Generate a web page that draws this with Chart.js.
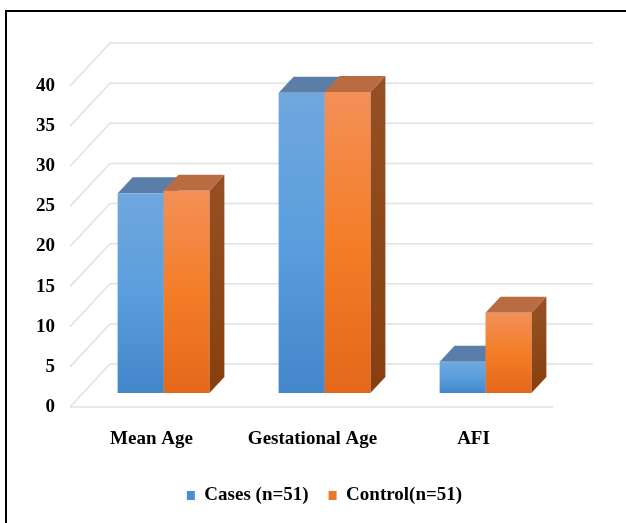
<!DOCTYPE html>
<html>
<head>
<meta charset="utf-8">
<title>Cases vs Control</title>
<script src="https://cdn.jsdelivr.net/npm/chart.js@4/dist/chart.umd.min.js"></script>
<style>
  body { margin: 0; background: #fff; overflow: hidden; }
  #wrap { position: relative; width: 626px; height: 523px; }
  #frame {
    position: absolute; left: 5px; top: 10px; width: 700px; height: 600px;
    border-left: 2px solid #000; border-top: 2px solid #000; pointer-events: none;
  }
  canvas { position: absolute; left: 0; top: 0; }
</style>
</head>
<body>
<div id="wrap">
  <canvas id="chart" width="626" height="523"></canvas>
  <div id="frame"></div>
</div>
<script>
// values
const categories = ['Mean Age', 'Gestational Age', 'AFI'];
const casesValues = [24.9, 37.4, 3.9];
const controlValues = [25.2, 37.5, 10.0];
const yTicks = [0, 5, 10, 15, 20, 25, 30, 35, 40];

// 3d look: offsets of the floor front edge and back wall from the bar plane
const FRONT = [-13, 14];
const BACK = [27, -29];
const BAR_DEPTH = [15, -16];
const GRID = '#dde1ea';

const blue = { light: '#70a7de', dark: '#4386ca', top: '#5a7ea7', side: '#3f6d9e', legend: '#4a8ed4' };
const orange = { light: '#f39058', dark: '#e4681a', top: '#b96b42', side: '#954f22', sideDark: '#873f0e', legend: '#ee7628' };

function frontFill(c) {
  return function (context) {
    const chart = context.chart;
    const y = chart.scales.y;
    if (!chart.chartArea || !y || !context.parsed) return c.dark;
    const yTop = y.getPixelForValue(context.parsed.y);
    const yBase = y.getPixelForValue(0);
    if (!isFinite(yTop) || yBase - yTop < 1) return c.dark;
    const g = chart.ctx.createLinearGradient(0, yTop, 0, yBase);
    g.addColorStop(0, c.light);
    g.addColorStop(0.5, c === orange ? '#f47d28' : '#5a9edd');
    g.addColorStop(1, c.dark);
    return g;
  };
}

function poly(ctx, pts, fill) {
  ctx.beginPath();
  ctx.moveTo(pts[0][0], pts[0][1]);
  for (let i = 1; i < pts.length; i++) ctx.lineTo(pts[i][0], pts[i][1]);
  ctx.closePath();
  ctx.fillStyle = fill;
  ctx.fill();
}

// back wall, floor and the top/side faces of the bars
const depthPlugin = {
  id: 'depth',
  beforeDatasetsDraw(chart) {
    const { ctx, chartArea: a } = chart;
    const y = chart.scales.y;
    ctx.save();
    ctx.strokeStyle = GRID;
    ctx.lineWidth = 1.5;
    yTicks.forEach(v => {
      const py = y.getPixelForValue(v);
      ctx.beginPath();
      ctx.moveTo(a.left + FRONT[0], py + FRONT[1]);
      ctx.lineTo(a.left + BACK[0], py + BACK[1]);
      ctx.lineTo(a.right + BACK[0], py + BACK[1]);
      ctx.stroke();
    });
    const p0 = y.getPixelForValue(0);
    ctx.beginPath();
    ctx.moveTo(a.left + FRONT[0], p0 + FRONT[1]);
    ctx.lineTo(a.right + FRONT[0], p0 + FRONT[1]);
    ctx.stroke();

    const colors = [blue, orange];
    chart.data.datasets.forEach((ds, i) => {
      const c = colors[i];
      chart.getDatasetMeta(i).data.forEach(bar => {
        const { x, y: top, width, base } = bar.getProps(['x', 'y', 'width', 'base'], true);
        const x0 = x - width / 2, x1 = x + width / 2;
        const dx = BAR_DEPTH[0], dy = BAR_DEPTH[1];
        const g = ctx.createLinearGradient(0, top, 0, base);
        g.addColorStop(0, c.side);
        g.addColorStop(1, c.sideDark || c.side);
        poly(ctx, [[x1, base], [x1, top], [x1 + dx, top + dy], [x1 + dx, base + dy]], g);
        poly(ctx, [[x0, top], [x1, top], [x1 + dx, top + dy], [x0 + dx, top + dy]], c.top);
      });
    });
    ctx.restore();
  }
};

const serif = "'Liberation Serif', 'Times New Roman', serif";

new Chart(document.getElementById('chart'), {
  type: 'bar',
  data: {
    labels: categories,
    datasets: [
      { label: 'Cases (n=51)', data: casesValues, backgroundColor: frontFill(blue), borderWidth: 0 },
      { label: 'Control(n=51)', data: controlValues, backgroundColor: frontFill(orange), borderWidth: 0 }
    ]
  },
  options: {
    responsive: false,
    animation: false,
    layout: { padding: { left: 30, right: 60, top: 72, bottom: 8 } },
    datasets: { bar: { barPercentage: 1, categoryPercentage: 0.57 } },
    scales: {
      x: {
        grid: { display: false, drawTicks: false },
        border: { display: false },
        ticks: { color: '#000', font: { family: serif, size: 19, weight: 'bold' }, padding: 35, labelOffset: -12 },
        afterFit(scale) { scale.height = 73; }
      },
      y: {
        min: 0, max: 40,
        grid: { display: false, drawTicks: false },
        border: { display: false },
        ticks: {
          stepSize: 5, color: '#000', padding: 28, labelOffset: 14,
          font: { family: serif, size: 19, weight: 'bold' }
        },
        afterFit(scale) { scale.width = 53; }
      }
    },
    plugins: {
      tooltip: { enabled: false },
      legend: {
        position: 'bottom',
        fullSize: false,
        labels: {
          color: '#000',
          boxWidth: 8, boxHeight: 9, padding: 20,
          font: { family: serif, size: 19, weight: 'bold' },
          generateLabels(chart) {
            const items = Chart.defaults.plugins.legend.labels.generateLabels(chart);
            const flat = [blue.legend, orange.legend];
            items.forEach((it, i) => { it.fillStyle = flat[i]; it.lineWidth = 0; it.strokeStyle = flat[i]; });
            return items;
          }
        }
      }
    }
  },
  plugins: [depthPlugin]
});
</script>
</body>
</html>
